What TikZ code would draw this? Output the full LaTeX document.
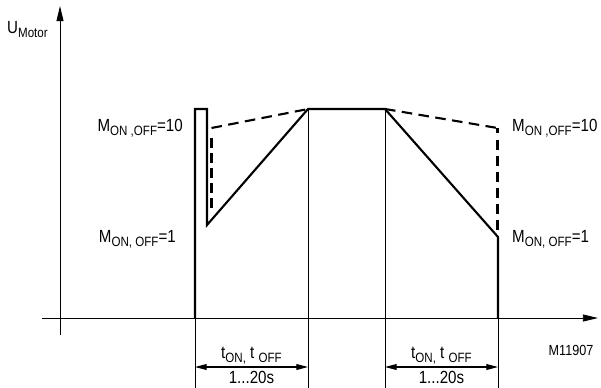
\documentclass[tikz,border=0pt]{standalone}
\usepackage{fontspec}
\setmainfont{Liberation Sans}[FakeStretch=0.86]
\usetikzlibrary{arrows.meta,positioning,calc}

\newcommand{\lowsub}[1]{\raisebox{-0.45ex}{\fontsize{11.5}{12}\selectfont #1}}

\begin{document}
\begin{tikzpicture}[
  x=0.03cm, y=-0.03cm,
  % === Line styles ===
  axis/.style={line width=0.8pt, -{Triangle[length=13pt,width=6pt]}},
  curve/.style={line width=1.8pt, line join=miter},
  ideal/.style={line width=1.8pt, dash pattern=on 9pt off 5.5pt},
  dashseg/.style={line width=2.2pt},
  guide/.style={line width=0.7pt},
  dim/.style={line width=1pt, {Triangle[length=10pt,width=5pt]}-{Triangle[length=10pt,width=5pt]}},
  % === Label styles ===
  lbl/.style={font=\fontsize{15}{17}\selectfont, inner sep=0pt},
  tag/.style={font=\fontsize{12.5}{14}\selectfont, inner sep=0pt},
]
\useasboundingbox (0,0) rectangle (601,387);

% =============================================
% Axes
% =============================================
\coordinate (ybot) at (60,335);
\coordinate (ytop) at (60,6);
\coordinate (xleft) at (42,318);
\coordinate (xright) at (598,318);
\draw[axis] (ybot) -- (ytop);
\draw[axis] (xleft) -- (xright);
\node[lbl, anchor=base west] (umotor) at (7,33) {U\lowsub{Motor}};

% =============================================
% Key points of the motor voltage
% =============================================
\coordinate (a0) at (195,318);
\coordinate (a1) at (195,109);
\coordinate (a2) at (207,109);
\coordinate (a3) at (207,225);
\coordinate (b1) at (308,109);
\coordinate (b2) at (385,109);
\coordinate (c1) at (498,237);
\coordinate (c0) at (498,318);
% dashed branch (M = 10)
\coordinate (d2) at (211.5,128);
\coordinate (e1) at (497.5,128);

% =============================================
% Voltage curves
% =============================================
\draw[curve] (a0) -- (a1) -- (a2) -- (a3) -- (b1) -- (b2) -- (c1) -- (c0);
\draw[ideal] (d2) -- (b1);
\draw[ideal] (b2) -- (e1);
% vertical dashes, drawn one by one
\foreach \y in {138,153,...,198}
  \draw[dashseg] (211.5,\y) -- (211.5,\y+10);
\draw[dashseg] (e1) -- ++(0,5);
\foreach \y in {140,156,...,220}
  \draw[dashseg] (497.5,\y) -- (497.5,\y+10);

% =============================================
% Guide lines
% =============================================
\coordinate (g1) at (195,392);
\coordinate (g2) at (308,392);
\coordinate (g3) at (385,392);
\coordinate (g4) at (498,392);
\draw[guide] (a0) -- (g1);
\draw[guide] (b1) -- (g2);
\draw[guide] (b2) -- (g3);
\draw[guide] (c0) -- (g4);

% =============================================
% Ramp time dimensions
% =============================================
\coordinate (r1) at (195,367);
\coordinate (r2) at (308,367);
\coordinate (r3) at (385,367);
\coordinate (r4) at (498,367);
\draw[dim] (r1) -- (r2);
\draw[dim] (r3) -- (r4);
\node[lbl, anchor=base] (ton1) at (251.5,358) {t\lowsub{ON,} t \lowsub{OFF}};
\node[lbl, anchor=base] (ton2) at (441.5,358) {t\lowsub{ON,} t \lowsub{OFF}};
\node[lbl, anchor=base] (rng1) at (251.5,383) {1...20s};
\node[lbl, anchor=base] (rng2) at (441.5,383) {1...20s};

% =============================================
% Labels
% =============================================
\node[lbl, anchor=base east] (mten1) at (183,131) {M\lowsub{ON ,OFF}=10};
\node[lbl, anchor=base east] (mone1) at (176,242) {M\lowsub{ON, OFF}=1};
\node[lbl, anchor=base west] (mten2) at (512,131) {M\lowsub{ON ,OFF}=10};
\node[lbl, anchor=base west] (mone2) at (512,242) {M\lowsub{ON, OFF}=1};
\node[tag, anchor=base] (fig) at (571,355) {M11907};

\end{tikzpicture}
\end{document}
